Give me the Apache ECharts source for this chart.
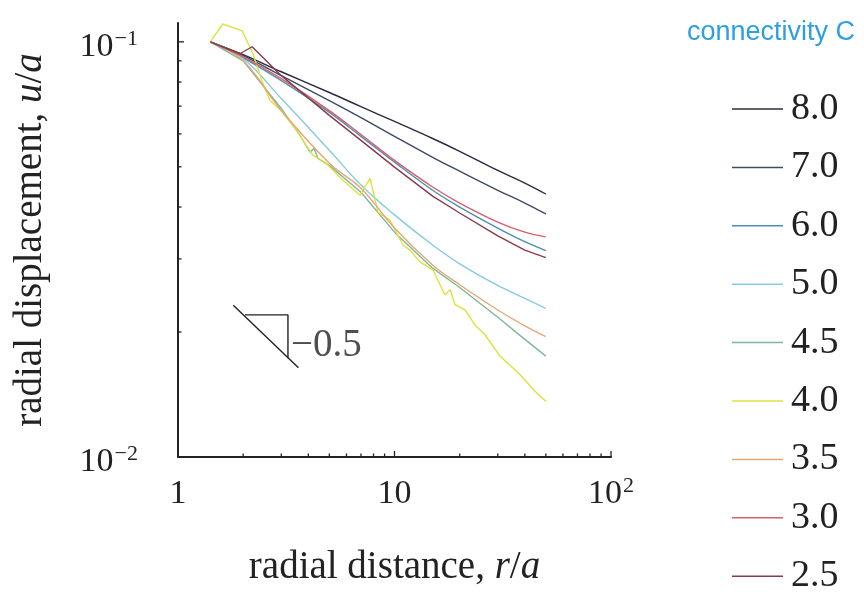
<!DOCTYPE html>
<html>
<head>
<meta charset="utf-8">
<script src="https://cdn.jsdelivr.net/npm/echarts@6/dist/echarts.min.js"></script>
<style>
  html, body { margin: 0; padding: 0; background: #fff; }
  #chart { width: 864px; height: 592px; }
</style>
</head>
<body>
<div id="chart"></div>
<script>
// Radial displacement u/a against radial distance r/a, one curve per connectivity C.
const connectivity = ['8.0', '7.0', '6.0', '5.0', '4.5', '4.0', '3.5', '3.0', '2.5'];

// [r/a, u/a] pairs for each connectivity
const C80 = [[1.41,0.100],[2,0.0931],[3,0.0847],[5,0.0755],[7,0.0698],[10,0.0643],[15,0.0585],[20,0.0545],[30,0.0490],[40,0.0457],[50,0.0430]];
const C70 = [[1.41,0.100],[2,0.0926],[3,0.0829],[5,0.0722],[7,0.0657],[10,0.0592],[15,0.0527],[20,0.0488],[30,0.0439],[40,0.0409],[50,0.0385]];
const C60 = [[1.41,0.100],[2,0.0915],[3,0.0806],[5,0.0676],[7,0.0592],[10,0.0513],[15,0.0439],[20,0.0400],[30,0.0356],[40,0.0330],[50,0.0314]];
const C50 = [[1.41,0.100],[2,0.0910],[3,0.0730],[5,0.0548],[7,0.0452],[10,0.0383],[15,0.0324],[20,0.0292],[30,0.0259],[40,0.0241],[50,0.0228]];
const C45 = [[1.41,0.100],[2,0.0900],[3,0.0691],[3.66,0.0595],[4.07,0.0542],[4.25,0.0554],[4.43,0.0524],[5,0.0504],[7,0.0434],[10,0.0348],[15,0.0285],[20,0.0256],[30,0.0217],[40,0.0192],[50,0.0175]];
const C40 = [[1.41,0.100],[1.61,0.1104],[1.98,0.1063],[2.22,0.0936],[2.44,0.0806],[2.66,0.0722],[2.99,0.0683],[3.47,0.0619],[4.20,0.0533],[4.78,0.0513],[5.78,0.0464],[6.93,0.0427],[7.71,0.0469],[8.39,0.0389],[9.53,0.0372],[10.95,0.0324],[11.79,0.0315],[13.12,0.0295],[15.06,0.0282],[16.23,0.0260],[17.12,0.0246],[18.05,0.0253],[19.03,0.0233],[21.17,0.0226],[23.54,0.0208],[26.18,0.0197],[30.72,0.0175],[37.99,0.0158],[44.57,0.0144],[50.1,0.0136]];
const C35 = [[1.41,0.100],[2,0.0900],[3,0.0683],[5,0.0510],[7,0.0444],[10,0.0356],[15,0.0290],[20,0.0260],[30,0.0226],[40,0.0207],[50,0.0195]];
const C30 = [[1.41,0.100],[2,0.0920],[3,0.0815],[5,0.0683],[7,0.0598],[10,0.0518],[15,0.0447],[20,0.0409],[30,0.0368],[40,0.0348],[50,0.0339]];
const C25 = [[1.41,0.100],[1.93,0.0936],[2.20,0.0973],[3,0.0829],[5,0.0665],[7,0.0579],[10,0.0499],[15,0.0425],[20,0.0387],[30,0.0341],[40,0.0315],[50,0.0302]];

const curves = [C80, C70, C60, C50, C45, C40, C35, C30, C25];
const curveColors = ['#2b2b3f', '#3d4b67', '#4d8fb0', '#84cbe0', '#7db897', '#dde23c', '#e6a678', '#d4606a', '#8a3a4a'];
const noisy = [false, false, false, false, true, true, false, false, true];

// slope guide: hypotenuse, right-angle legs, and the slope label
const slopeLine = [[1.8,0.0232],[3.6,0.0164]];
const slopeLegs = [[2.04,0.0220],[3.22,0.0220],[3.22,0.0173]];
const slopeLabelAt = [[3.22,0.0185]];
const slopeText = '\u22120.5';

// axis ticks
const xMajorTicks = [10, 100];
const xMinorTicks = [2,3,4,5,6,7,8,9,20,30,40,50,60,70,80,90];
const yMajorTicks = [0.1];
const yMinorTicks = [0.02,0.03,0.04,0.05,0.06,0.07,0.08,0.09];
const xRange = [1, 100];
const yRange = [0.01, 0.111];

const serif = '"Liberation Serif", "Times New Roman", serif';
const ink = '#222';

function isDecade(v) {
  const l = Math.log10(v);
  return Math.abs(l - Math.round(l)) < 1e-6;
}
function expLabel(v) {
  const e = Math.round(Math.log10(v));
  if (e === 0) return '{b|1}';
  if (e === 1) return '{b|10}';
  return '{b|10}{s|' + (e < 0 ? '\u2212' + (-e) : e) + '}';
}
const richNum = {
  b: { fontFamily: serif, fontSize: 34, color: ink, lineHeight: 36, verticalAlign: 'bottom' },
  s: { fontFamily: serif, fontSize: 22, color: ink, lineHeight: 36, verticalAlign: 'top', padding: [0, 0, 0, 1] }
};

function tickSeries(values, axis, len) {
  return {
    type: 'custom',
    silent: true,
    clip: false,
    z: 5,
    data: values.map(v => [v]),
    renderItem: function (params, api) {
      const v = api.value(0);
      let p, q;
      if (axis === 'x') {
        p = api.coord([v, yRange[0]]);
        q = [p[0], p[1] - len];
      } else {
        p = api.coord([xRange[0], v]);
        q = [p[0] + len, p[1]];
      }
      return { type: 'line', shape: { x1: p[0], y1: p[1], x2: q[0], y2: q[1] }, style: { stroke: ink, lineWidth: 1.3 } };
    }
  };
}

const series = curves.map((d, i) => ({
  name: connectivity[i],
  type: 'line',
  data: d,
  showSymbol: false,
  symbol: 'none',
  smooth: noisy[i] ? false : 0.4,
  lineStyle: { color: curveColors[i], width: 1.4 },
  itemStyle: { color: curveColors[i] },
  z: 3
}));

series.push(
  { type: 'line', data: slopeLine, symbol: 'none', lineStyle: { color: ink, width: 1.4 }, silent: true, z: 4 },
  { type: 'line', data: slopeLegs, symbol: 'none', lineStyle: { color: ink, width: 1.4 }, silent: true, z: 4 },
  { type: 'scatter', data: slopeLabelAt, symbolSize: 0, silent: true, z: 4,
    label: { show: true, position: 'right', distance: 3, formatter: slopeText, fontFamily: serif, fontSize: 39, color: ink } },
  tickSeries(xMajorTicks, 'x', 6),
  tickSeries(xMinorTicks, 'x', 3.5),
  tickSeries(yMajorTicks, 'y', 6),
  tickSeries(yMinorTicks, 'y', 3.5)
);

const chart = echarts.init(document.getElementById('chart'), null, { renderer: 'canvas' });
chart.setOption({
  animation: false,
  backgroundColor: '#fff',
  title: {
    text: 'connectivity C',
    right: 4, top: 14,
    textStyle: { fontFamily: '"Liberation Sans", Arial, sans-serif', fontSize: 27, fontWeight: 'normal', color: '#2d9fe0' }
  },
  legend: {
    orient: 'vertical',
    left: 727, top: 84, height: 540,
    data: connectivity,
    icon: 'rect',
    itemWidth: 51, itemHeight: 1.5,
    itemGap: 18.4,
    selectedMode: false,
    textStyle: { fontFamily: serif, fontSize: 38, color: ink, lineHeight: 40, padding: [0, 0, 0, 3] }
  },
  grid: { left: 178, right: 253, top: 23, bottom: 134, containLabel: false },
  xAxis: {
    type: 'log', logBase: 10, min: xRange[0], max: xRange[1],
    name: 'radial distance, {i|r}/{i|a}',
    nameLocation: 'middle', nameGap: 91,
    nameTextStyle: { fontFamily: serif, fontSize: 39, color: ink, rich: { i: { fontFamily: serif, fontSize: 39, fontStyle: 'italic', color: ink } } },
    axisLine: { show: true, lineStyle: { color: ink, width: 2 } },
    axisTick: { show: false },
    splitLine: { show: false },
    axisLabel: { margin: 18, formatter: v => isDecade(v) ? expLabel(v) : '', rich: richNum, showMaxLabel: true, showMinLabel: true }
  },
  yAxis: {
    type: 'log', logBase: 10, min: yRange[0], max: yRange[1],
    name: 'radial displacement, {i|u}/{i|a}',
    nameLocation: 'middle', nameGap: 128, nameRotate: 90,
    nameTextStyle: { fontFamily: serif, fontSize: 39, color: ink, rich: { i: { fontFamily: serif, fontSize: 39, fontStyle: 'italic', color: ink } } },
    axisLine: { show: true, lineStyle: { color: ink, width: 2 } },
    axisTick: { show: false },
    splitLine: { show: false },
    axisLabel: { margin: 40, padding: [8, 0, 0, 0], formatter: v => isDecade(v) ? expLabel(v) : '', rich: richNum }
  },
  series: series
});
</script>
</body>
</html>
